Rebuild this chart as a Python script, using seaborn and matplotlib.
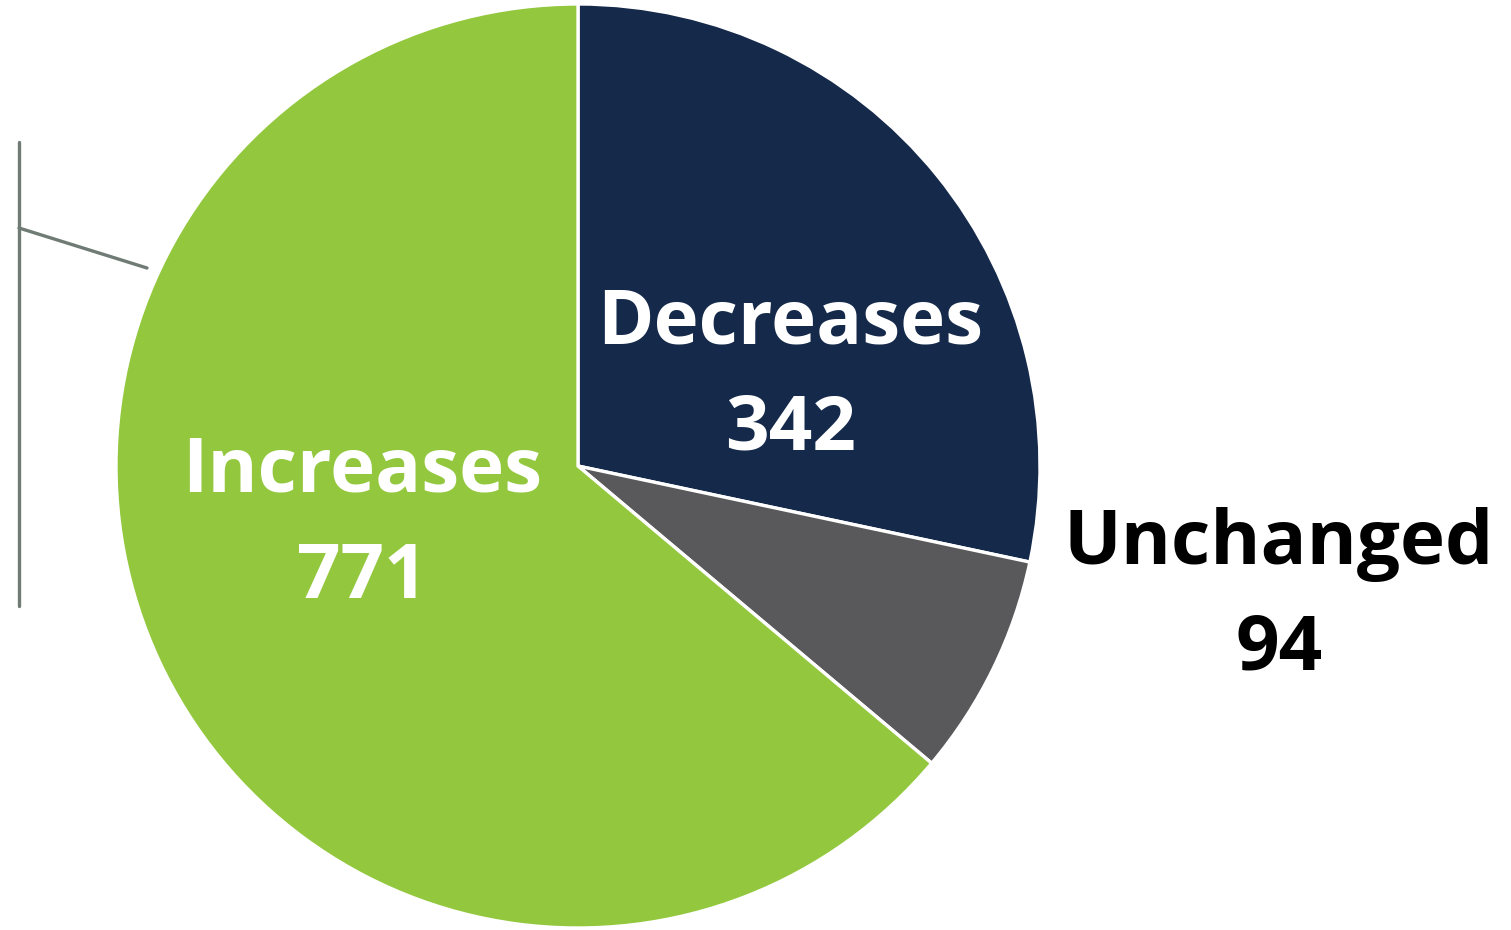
import matplotlib
matplotlib.use("Agg")
import matplotlib.pyplot as plt
import seaborn as sns
from matplotlib.lines import Line2D

categories = ["Decreases", "Unchanged", "Increases"]
values = [342, 94, 771]
colors = ["#15294B", "#59595B", "#93C83E"]

sns.set_theme(style="white")
plt.rcParams['font.family'] = ['Open Sans', 'DejaVu Sans']

W, H = 1511, 930
fig = plt.figure(figsize=(W / 100, H / 100), dpi=100)
cx, cy, r = 578, 466, 462
ax = fig.add_axes([(cx - r) / W, (H - cy - r) / H, 2 * r / W, 2 * r / H])
ax.pie(values, colors=colors, startangle=90, counterclock=False,
       wedgeprops=dict(edgecolor="white", linewidth=2.4), radius=1)
ax.set_xlim(-1, 1)
ax.set_ylim(-1, 1)
ax.set_aspect("equal")
ax.axis("off")

def fx(px):
    return px / W

def fy(py):
    return 1 - py / H

fs = 55
label_pos = {"Decreases": (790, 324, 430, "white"),
             "Increases": (362, 472, 578, "white"),
             "Unchanged": (1279, 544, 650, "black")}
for cat, val in zip(categories, values):
    x, y1, y2, c = label_pos[cat]
    fig.text(fx(x), fy(y1), cat, ha="center", va="center", fontsize=fs,
             fontweight="bold", color=c)
    fig.text(fx(x), fy(y2), str(val), ha="center", va="center", fontsize=fs,
             fontweight="bold", color=c)

lc = "#6F7B74"
fig.add_artist(Line2D([fx(19), fx(19)], [fy(142), fy(606)], color=lc, lw=2.4,
                      transform=fig.transFigure))
fig.add_artist(Line2D([fx(19), fx(147)], [fy(228), fy(268)], color=lc, lw=2.4,
                      transform=fig.transFigure))

fig.savefig("out.png", dpi=100)
